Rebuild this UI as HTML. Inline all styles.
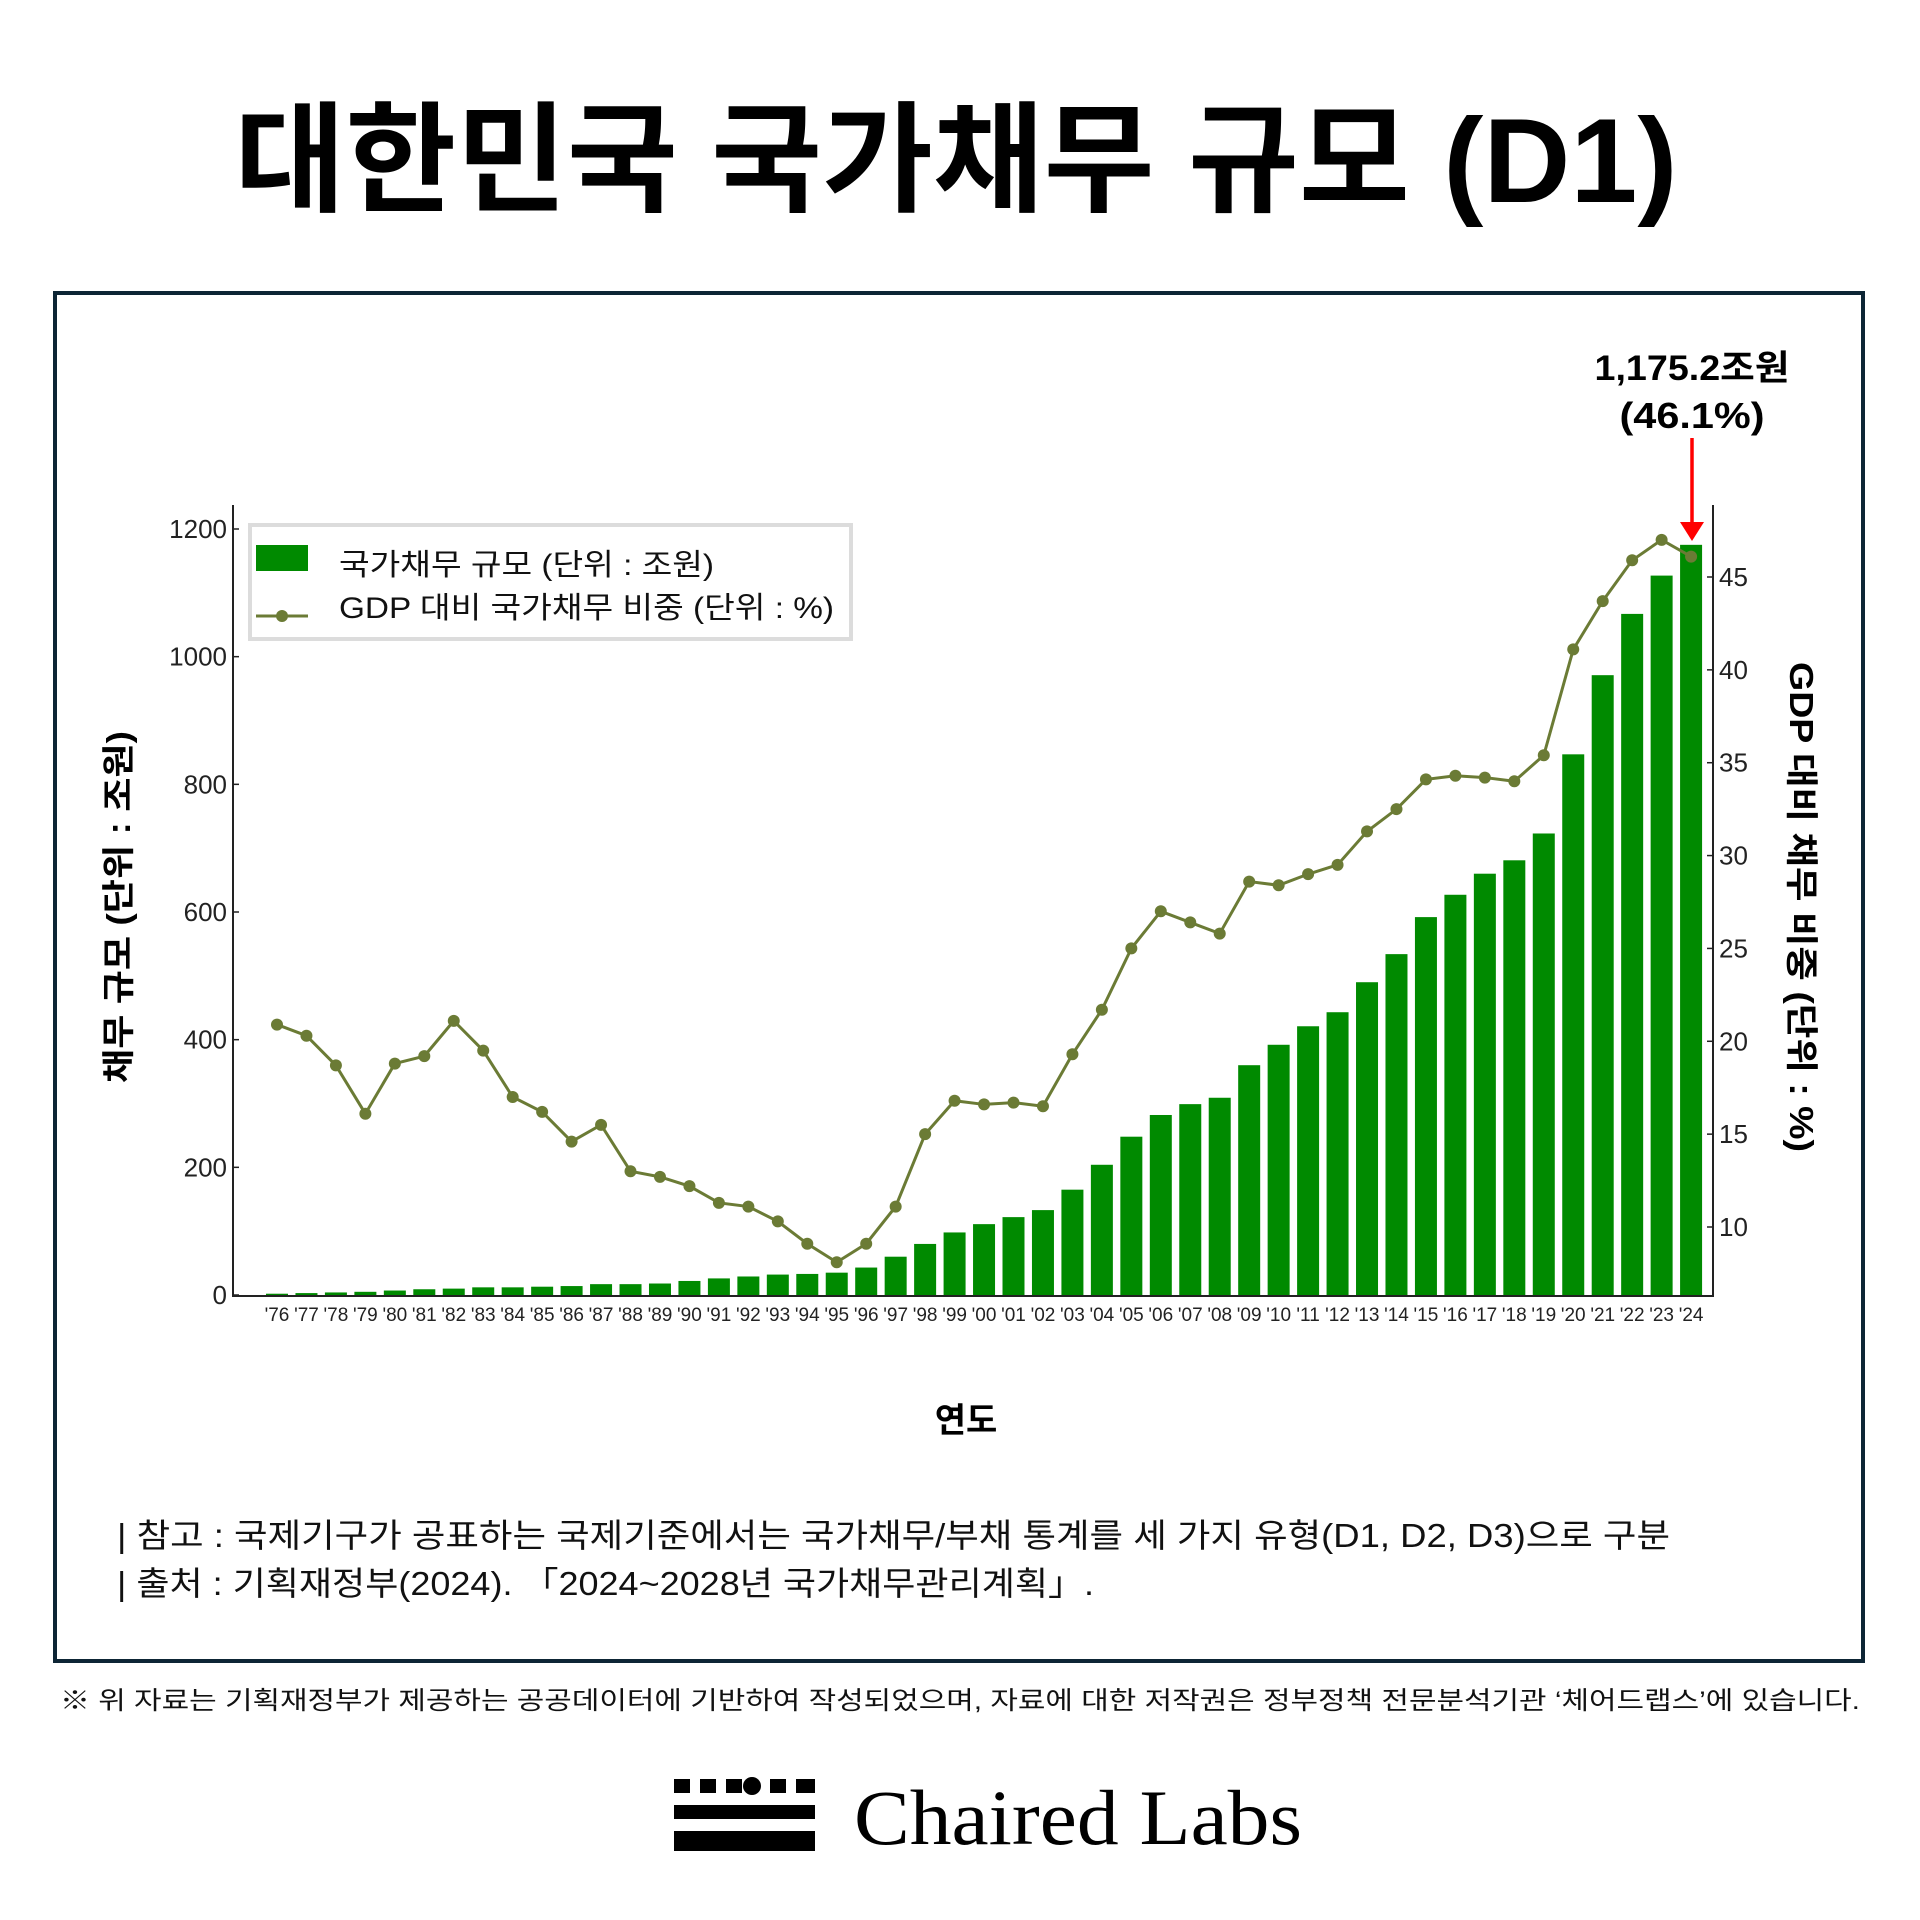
<!DOCTYPE html>
<html><head><meta charset="utf-8"><style>
html,body{margin:0;padding:0;background:#fff;}
svg{display:block;}
text{font-family:"Liberation Sans","Noto Sans CJK KR",sans-serif;}
text.tick{font-family:"Liberation Sans Narrow","Liberation Sans","Noto Sans CJK KR",sans-serif;fill:#222;}
text.serif{font-family:"Liberation Serif","DejaVu Serif",serif;}
</style></head><body>
<svg id="chart" width="1920" height="1920" viewBox="0 0 1920 1920" xmlns="http://www.w3.org/2000/svg">
<text x="956" y="202" text-anchor="middle" font-size="120" font-weight="bold" fill="#000" textLength="1443" lengthAdjust="spacingAndGlyphs">대한민국 국가채무 규모 (D1)</text>
<rect x="55" y="293" width="1808" height="1368" fill="none" stroke="#0d2535" stroke-width="4"/>
<g id="plot"></g>
<g>
<rect x="250" y="525" width="601" height="114" fill="#fff" stroke="#dcdcdc" stroke-width="4"/>
<rect x="256" y="545" width="52" height="26" fill="#008a00"/>
<text x="339" y="575" font-size="30" fill="#111" textLength="375" lengthAdjust="spacingAndGlyphs">국가채무 규모 (단위 : 조원)</text>
<line x1="256" y1="616" x2="308" y2="616" stroke="#6b7b35" stroke-width="3"/>
<circle cx="282" cy="616" r="6" fill="#6b7b35"/>
<text x="339" y="618" font-size="30" fill="#111" textLength="495" lengthAdjust="spacingAndGlyphs">GDP 대비 국가채무 비중 (단위 : %)</text>
</g>
<text transform="translate(130,907) rotate(-90)" text-anchor="middle" font-size="33" font-weight="bold" fill="#000" textLength="352" lengthAdjust="spacingAndGlyphs">채무 규모  (단위 : 조원)</text>
<text transform="translate(1790,907) rotate(90)" text-anchor="middle" font-size="33" font-weight="bold" fill="#000" textLength="490" lengthAdjust="spacingAndGlyphs">GDP 대비 채무 비중  (단위 : %)</text>
<text x="966" y="1432" text-anchor="middle" font-size="34" font-weight="bold" fill="#000">연도</text>
<text x="1692" y="380" text-anchor="middle" font-size="35" font-weight="bold" fill="#000" textLength="195" lengthAdjust="spacingAndGlyphs">1,175.2조원</text>
<text x="1692" y="428" text-anchor="middle" font-size="36" font-weight="bold" fill="#000" textLength="145" lengthAdjust="spacingAndGlyphs">(46.1%)</text>
<line x1="1692" y1="438" x2="1692" y2="524" stroke="#ff0000" stroke-width="3.5"/>
<polygon points="1680,522 1704,522 1692,541" fill="#ff0000"/>
<text x="117" y="1547" font-size="33" fill="#111" textLength="1553" lengthAdjust="spacingAndGlyphs">| 참고 : 국제기구가 공표하는 국제기준에서는 국가채무/부채 통계를 세 가지 유형(D1, D2, D3)으로 구분</text>
<text x="117" y="1595" font-size="33" fill="#111" textLength="977" lengthAdjust="spacingAndGlyphs">| 출처 : 기획재정부(2024). 「2024~2028년 국가채무관리계획」.</text>
<text x="960" y="1709" text-anchor="middle" font-size="25" fill="#111" textLength="1800" lengthAdjust="spacingAndGlyphs">※ 위 자료는 기획재정부가 제공하는 공공데이터에 기반하여 작성되었으며, 자료에 대한 저작권은 정부정책 전문분석기관 ‘체어드랩스’에 있습니다.</text>
<g fill="#000">
<rect x="674" y="1779" width="16" height="14"/><rect x="700" y="1779" width="16" height="14"/><rect x="726" y="1779" width="16" height="14"/>
<circle cx="752" cy="1786" r="9"/><rect x="770" y="1779" width="16" height="14"/><rect x="796" y="1779" width="19" height="14"/>
<rect x="674" y="1805" width="141" height="14"/><rect x="674" y="1831" width="141" height="20"/>
</g>
<text class="serif" x="854" y="1844" font-size="78" fill="#000" textLength="448" lengthAdjust="spacingAndGlyphs">Chaired Labs</text>
</svg>
<script>
const years = ["'76","'77","'78","'79","'80","'81","'82","'83","'84","'85","'86","'87","'88","'89","'90","'91","'92","'93","'94","'95","'96","'97","'98","'99","'00","'01","'02","'03","'04","'05","'06","'07","'08","'09","'10","'11","'12","'13","'14","'15","'16","'17","'18","'19","'20","'21","'22","'23","'24"];
const debt = [2,3,4,5,7,9,10,12,12,13,14,17,17,18,22,26,29,32,33,35,43,60,80,98,111,122,133,165,204,248,282,299,309,360,392,421,443,490,534,592,627,660,681,723,847,971,1067,1127,1175.2];
const ratio = [20.9,20.3,18.7,16.1,18.8,19.2,21.1,19.5,17.0,16.2,14.6,15.5,13.0,12.7,12.2,11.3,11.1,10.3,9.1,8.1,9.1,11.1,15.0,16.8,16.6,16.7,16.5,19.3,21.7,25.0,27.0,26.4,25.8,28.6,28.4,29.0,29.5,31.3,32.5,34.1,34.3,34.2,34.0,35.4,41.1,43.7,45.9,47.0,46.1];
const leftTicks = [0,200,400,600,800,1000,1200];
const rightTicks = [10,15,20,25,30,35,40,45];

const NS = "http://www.w3.org/2000/svg";
const g = document.getElementById('plot');
const X0 = 277, DX = 29.46, BW = 22;
const xPos = i => X0 + i * DX;
const yL = v => 1295 - v * (766 / 1200);
const yR = v => 1227 - (v - 10) * (650 / 35);
function mk(tag, attrs){const e=document.createElementNS(NS,tag);for(const k in attrs)e.setAttribute(k,attrs[k]);g.appendChild(e);return e;}

debt.forEach((v,i)=>{
  const b = mk('rect',{x:xPos(i)-BW/2,y:yL(v),width:BW,height:yL(0)-yL(v),fill:'#008a00'});
  
  
});
const pts = ratio.map((v,i)=>xPos(i)+','+yR(v)).join(' ');
const pl = mk('polyline',{points:pts,fill:'none',stroke:'#6b7b35','stroke-width':3});


ratio.forEach((v,i)=>{
  const c = mk('circle',{cx:xPos(i),cy:yR(v),r:6,fill:'#6b7b35'});
  
  
});
const sp = mk('path',{d:'M233,505 V1296 H1713 V505',fill:'none',stroke:'#222','stroke-width':2});


leftTicks.forEach(t=>{
  mk('line',{x1:233,x2:239,y1:yL(t),y2:yL(t),stroke:'#222','stroke-width':1.5});
  const tx = mk('text',{x:227,y:yL(t)+9,'text-anchor':'end','font-size':26,class:'tick'});
  tx.textContent = t;
  
  
});
rightTicks.forEach(t=>{
  mk('line',{x1:1707,x2:1713,y1:yR(t),y2:yR(t),stroke:'#222','stroke-width':1.5});
  const tx = mk('text',{x:1719,y:yR(t)+9,'text-anchor':'start','font-size':26,class:'tick'});
  tx.textContent = t;
  
  
});
years.forEach((y,i)=>{
  const tx = mk('text',{x:xPos(i),y:1321,'text-anchor':'middle','font-size':19,class:'tick'});
  tx.textContent = y;
  
  
});
</script>
</body></html>
